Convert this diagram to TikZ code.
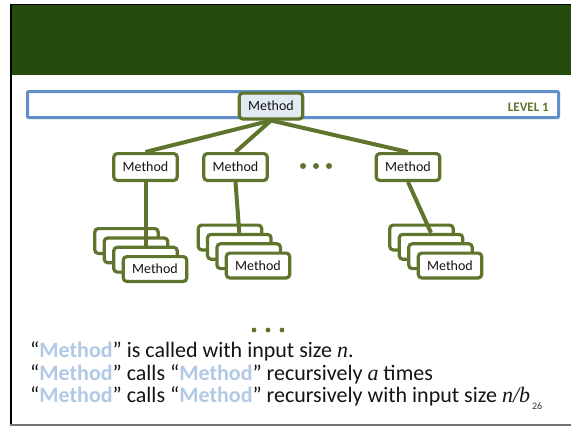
\documentclass[tikz,border=0pt]{standalone}
\usepackage{fontspec}
\setmainfont{Carlito}
\newfontfamily\tmsfont{Liberation Serif}
\usetikzlibrary{shadows}
\definecolor{mgreen}{RGB}{95,117,45}
\definecolor{hdrgreen}{RGB}{37,76,14}
\definecolor{barblue}{RGB}{95,142,200}
\definecolor{topfill}{RGB}{228,234,244}
\definecolor{mblue}{RGB}{178,201,229}
\definecolor{tblack}{RGB}{20,20,20}
\newcommand{\mth}{{\bfseries\color{mblue}Method}}
\newcommand{\mvar}[1]{{\tmsfont\itshape #1}}
\tikzset{
  mbox/.style={draw=mgreen, line width=3.2pt, rounded corners=3.5pt, fill=white,
    minimum width=63.5pt, minimum height=26.8pt, inner sep=0pt,
    font=\fontsize{14}{16}\selectfont, text=tblack,
    drop shadow={opacity=0.25, shadow xshift=1pt, shadow yshift=-1.5pt}},
  sbox/.style={mbox, minimum height=24.8pt},
  conn/.style={draw=mgreen, line width=4pt},
  txt/.style={font=\fontsize{22}{25}\selectfont, text=tblack, inner sep=0pt, anchor=base west},
  dotmark/.style={fill=mgreen}
}
\begin{document}
\begin{tikzpicture}[x=1pt,y=-1pt]
\useasboundingbox (0,0) rectangle (571,426);
\fill[white] (0,0) rectangle (571,426);
% slide frame and header
\fill[hdrgreen] (11,4) rectangle (571,75);
\draw[black, line width=1.6pt] (571,4.5) -- (10.8,4.5) -- (10.8,425);
\draw[black!55, line width=1.2pt] (10,425) -- (571,425);
% level bar
\node[draw=barblue, line width=3pt, fill=white, rounded corners=1pt,
      minimum width=531pt, minimum height=26pt, inner sep=0pt,
      drop shadow={opacity=0.25, shadow xshift=1pt, shadow yshift=-1.5pt}] (bar) at (293,104.5) {};
\node[anchor=base east, font=\bfseries\fontsize{13}{15}\selectfont, text=mgreen, inner sep=0pt] (lv) at (549,111) {LEVEL 1};
% top node
\node[mbox, fill=topfill, minimum height=25.8pt] (top) at (271,106) {Method};
% level 2
\node[mbox] (n1) at (145.5,167) {Method};
\node[mbox] (n2) at (235.5,167) {Method};
\node[mbox] (n4) at (408,167) {Method};
% stacks
\node[sbox] (s1a) at (126.5,241) {};
\node[sbox] (s1b) at (136,250.3) {};
\node[sbox] (s1c) at (145.5,259.7) {};
\node[sbox] (s1d) at (155,269) {Method};
\node[sbox] (s2a) at (230,237.5) {};
\node[sbox] (s2b) at (239.3,246.8) {};
\node[sbox] (s2c) at (248.7,256.2) {};
\node[sbox] (s2d) at (258,265.5) {Method};
\node[sbox] (s3a) at (421.5,237.5) {};
\node[sbox] (s3b) at (431,246.8) {};
\node[sbox] (s3c) at (440.5,256.2) {};
\node[sbox] (s3d) at (450,265.5) {Method};
% connectors
\draw[conn] (top.south) -- (n1.north);
\draw[conn] (top.south) -- (n2.north);
\draw[conn] (top.south) -- (n4.north);
\draw[conn] (n1.south) -- (s1c.north);
\draw[conn] (n2.south) -- (s2b.north);
\draw[conn] (n4.south) -- (s3b.north);
% ellipsis dots
\fill[dotmark] (303,166) circle (3);
\fill[dotmark] (316,166) circle (3);
\fill[dotmark] (329,166) circle (3);
\fill[dotmark] (254,330) circle (2.4);
\fill[dotmark] (268,330) circle (2.4);
\fill[dotmark] (282,330) circle (2.4);
% text
\node[txt] (l1) at (30,357) {“\mth” is called with input size \mvar{n}.};
\node[txt] (l2) at (30,380) {“\mth” calls “\mth” recursively \mvar{a} times};
\node[txt] (l3) at (30,402) {“\mth” calls “\mth” recursively with input size \mvar{n/b}};
\node[anchor=base west, font=\fontsize{10}{12}\selectfont, text=black!80, inner sep=0pt] (pg) at ([xshift=1.5pt,yshift=-7pt]l3.base east) {26};
\end{tikzpicture}
\end{document}
